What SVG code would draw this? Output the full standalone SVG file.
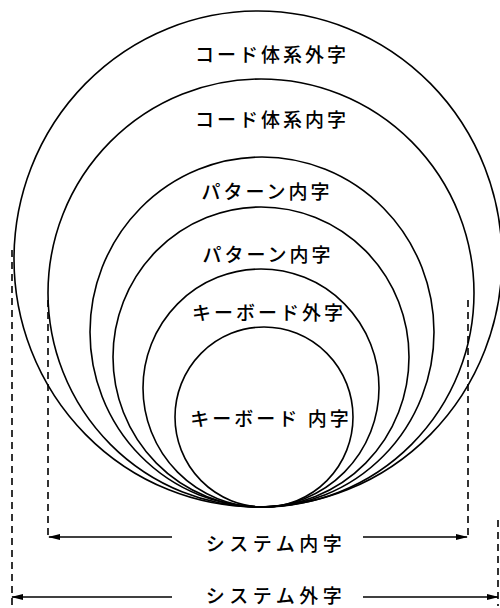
<svg xmlns="http://www.w3.org/2000/svg" width="500" height="608" viewBox="0 0 500 608">
<style>
.c{fill:none;stroke:#000;stroke-width:1.6}
.d{fill:none;stroke:#000;stroke-width:1.6;stroke-dasharray:7,5}
.a{fill:none;stroke:#000;stroke-width:1.6}
text{font-family:"Noto Sans CJK JP","Noto Sans",sans-serif;font-size:19px;font-weight:500;fill:#000;text-anchor:middle;dominant-baseline:central;letter-spacing:3px}
.s{letter-spacing:4.5px}
</style>
<defs>
<marker id="ah" markerWidth="12" markerHeight="8" refX="11" refY="4" orient="auto" markerUnits="userSpaceOnUse">
<path d="M0,1 L12,4 L0,7 Z" fill="#000"/>
</marker>
</defs>
<rect width="500" height="608" fill="#fff"/>
<g id="n1"><ellipse class="c" cx="258" cy="259" rx="244" ry="248"/><text x="272" y="53">コード体系外字</text></g>
<g id="n2"><ellipse class="c" cx="261" cy="293" rx="213" ry="214"/><text x="272" y="118">コード体系内字</text></g>
<g id="n3"><ellipse class="c" cx="262" cy="332" rx="172" ry="175"/><text x="267" y="190">パターン内字</text></g>
<g id="n4"><ellipse class="c" cx="261" cy="357" rx="148" ry="150"/><text x="268" y="253">パターン内字</text></g>
<g id="n5"><ellipse class="c" cx="261" cy="388" rx="118" ry="119"/><text x="269" y="311">キーボード外字</text></g>
<g id="n6"><ellipse class="c" cx="264" cy="417" rx="89" ry="90"/><text x="271" y="417">キーボード 内字</text></g>
<g id="connectors">
<path class="d" d="M48,300 V537"/>
<path class="d" d="M468,300 V537"/>
<path class="d" d="M12,250 V606"/>
<path class="d" d="M498,520 V606"/>
<path class="a" d="M172,537 H49" marker-end="url(#ah)"/>
<path class="a" d="M363,537 H467" marker-end="url(#ah)"/>
<path class="a" d="M172,597 H12" marker-end="url(#ah)"/>
<path class="a" d="M363,597 H498" marker-end="url(#ah)"/>
</g>
<g id="labels">
<text class="s" x="276" y="542">システム内字</text>
<text class="s" x="276" y="594">システム外字</text>
</g>
</svg>
